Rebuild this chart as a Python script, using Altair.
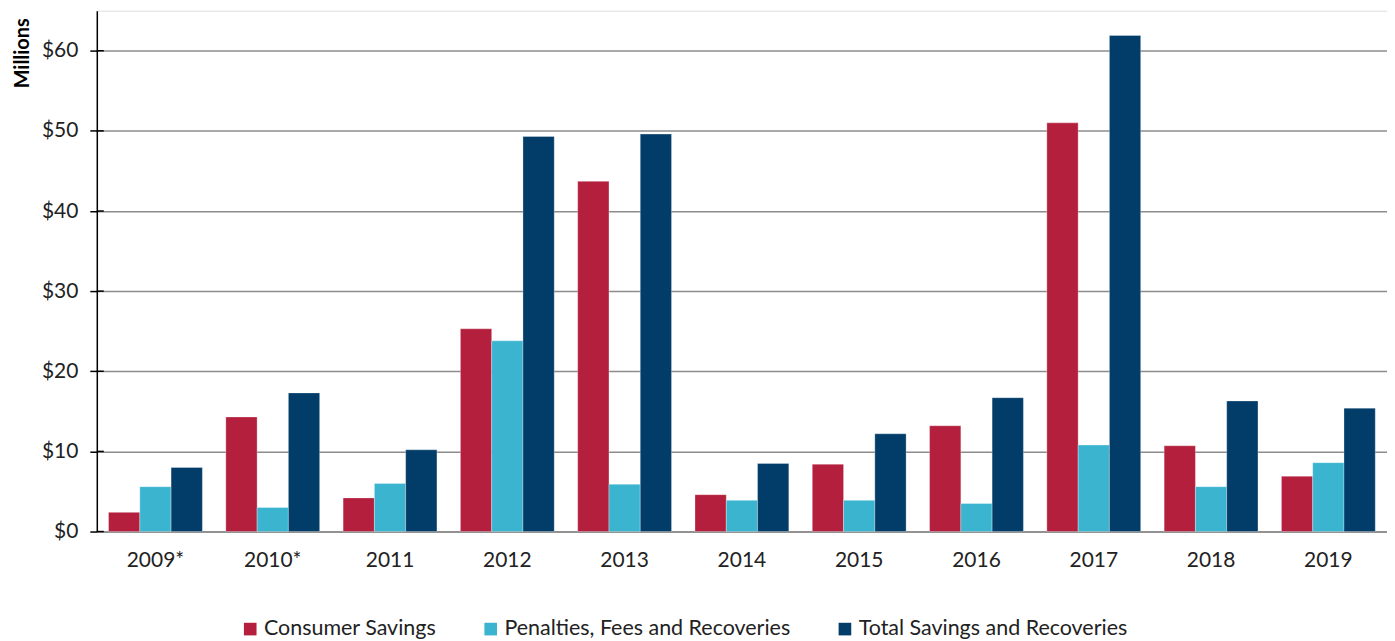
import altair as alt
import pandas as pd

years = ["2009*", "2010*", "2011", "2012", "2013", "2014", "2015", "2016", "2017", "2018", "2019"]
consumer = [2.4, 14.3, 4.2, 25.3, 43.7, 4.6, 8.4, 13.2, 51.0, 10.7, 6.9]
penalties = [5.6, 3.0, 6.0, 23.8, 5.9, 3.9, 3.9, 3.5, 10.8, 5.6, 8.6]
total = [8.0, 17.3, 10.2, 49.3, 49.6, 8.5, 12.2, 16.7, 61.9, 16.3, 15.4]
series = ["Consumer Savings", "Penalties, Fees and Recoveries", "Total Savings and Recoveries"]
colors = ["#B31F3C", "#3BB5CF", "#023C69"]
y_ticks = [0, 10, 20, 30, 40, 50, 60]

rows = []
for i, yr in enumerate(years):
    for s, vals in zip(series, [consumer, penalties, total]):
        rows.append({"year": yr, "series": s, "value": vals[i]})
df = pd.DataFrame(rows)
ticks_df = pd.DataFrame({"v": y_ticks})

FONT = "Lato"

bars = alt.Chart(df).mark_bar(stroke="white", strokeWidth=0.5, strokeOpacity=0.6).encode(
    x=alt.X("year:N", sort=years, title=None,
            scale=alt.Scale(paddingInner=0.2, paddingOuter=0.1),
            axis=alt.Axis(ticks=False, domain=True, domainColor="#8c8c8c", domainWidth=1.5,
                          labelAngle=0, labelPadding=18, labelFontSize=21, labelColor="#222",
                          labelFont=FONT)),
    xOffset=alt.XOffset("series:N", sort=series),
    y=alt.Y("value:Q", title="Millions",
            scale=alt.Scale(domain=[0, 65], nice=False),
            axis=alt.Axis(values=y_ticks, labelExpr="'$' + datum.value", grid=True,
                          gridColor="#8c8c8c", gridWidth=1.5, domainColor="#000", domainWidth=1.5,
                          tickColor="#000", tickSize=7, tickWidth=1.5, labelPadding=12,
                          labelFontSize=21, labelColor="#222", labelFont=FONT,
                          titleFont=FONT, titleFontSize=20, titleFontWeight="bold",
                          titleAngle=270, titleAlign="right", titleBaseline="bottom",
                          titleX=-64, titleY=7, titleColor="#000")),
    color=alt.Color("series:N", sort=series, scale=alt.Scale(domain=series, range=colors),
                    legend=alt.Legend(title=None, orient="none", legendX=143, legendY=609,
                                      direction="horizontal", columns=3, gridAlign="none",
                                      columnPadding=43, symbolType="square", symbolSize=160,
                                      symbolStrokeWidth=0, labelOffset=3, labelFontSize=21.5,
                                      labelFont=FONT, labelColor="#222", labelLimit=400)),
)

inner_ticks = alt.Chart(ticks_df).mark_rule(color="#000", strokeWidth=1.5).encode(
    y=alt.Y("v:Q", scale=alt.Scale(domain=[0, 65], nice=False)),
    x=alt.value(0), x2=alt.value(7),
)

chart = alt.layer(bars, inner_ticks).properties(
    width=1293, height=522,
    autosize=alt.AutoSizeParams(type="none"),
    padding={"left": 89, "top": 2, "right": 0, "bottom": 108},
).configure_view(stroke=None).configure(background="white")

chart.save("out.html", embed_options={"renderer": "svg", "actions": False})
